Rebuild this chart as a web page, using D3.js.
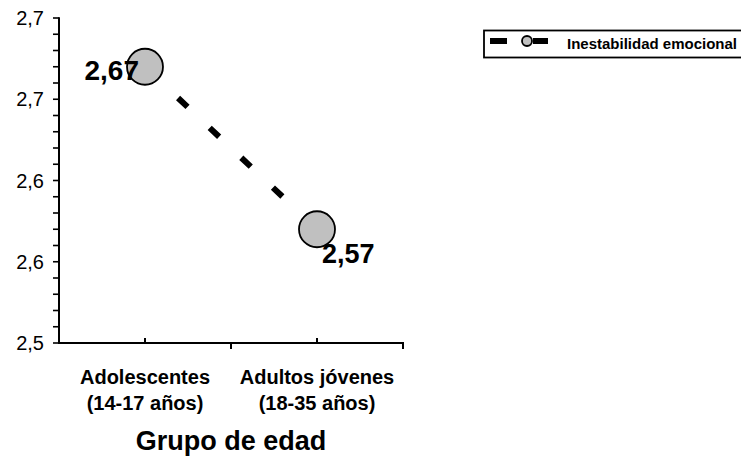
<!DOCTYPE html>
<html>
<head>
<meta charset="utf-8">
<script src="https://cdn.jsdelivr.net/npm/d3@7"></script>
<style>
  html, body { margin: 0; padding: 0; background: #fff; }
  svg { display: block; font-family: "Liberation Sans", Arial, sans-serif; }
</style>
</head>
<body>
<svg id="chart" width="741" height="458"></svg>
<script>
// Age groups on the x axis (two text lines each)
const categories = ["Adolescentes\n(14-17 años)", "Adultos jóvenes\n(18-35 años)"];
// Mean emotional instability score per age group
const values = [2.67, 2.57];
const valueLabels = ["2,67", "2,57"];
const seriesName = "Inestabilidad emocional";
// Major y ticks and their printed labels (one decimal, comma separator)
const yTicks = [2.5, 2.55, 2.6, 2.65, 2.7];
const yTickLabels = ["2,5", "2,6", "2,6", "2,7", "2,7"];
const yMinorStep = 0.01;
const xTitle = "Grupo de edad";

const svg = d3.select("#chart");
const plot = { left: 59, right: 403, top: 18, bottom: 343 };

const y = d3.scaleLinear().domain([2.5, 2.7]).range([plot.bottom, plot.top]);
const x = d3.scaleBand().domain(categories).range([plot.left, plot.right]).padding(0);
const cx = c => x(c) + x.bandwidth() / 2;

// ---- y axis ----
const minorTicks = d3.range(0, 21).map(i => +(2.5 + i * yMinorStep).toFixed(2));
const yAxis = svg.append("g");
yAxis.selectAll("line.minor").data(minorTicks).join("line")
  .attr("x1", plot.left - 6).attr("x2", plot.left)
  .attr("y1", d => y(d)).attr("y2", d => y(d))
  .attr("stroke", "#000").attr("stroke-width", 1.6);
yAxis.append("line")
  .attr("x1", plot.left).attr("x2", plot.left)
  .attr("y1", plot.top - 0.8).attr("y2", plot.bottom + 1)
  .attr("stroke", "#000").attr("stroke-width", 2);
yAxis.selectAll("text").data(yTicks).join("text")
  .attr("x", 44).attr("y", d => y(d)).attr("dy", "0.36em")
  .attr("text-anchor", "end")
  .attr("font-size", 20)
  .text((d, i) => yTickLabels[i]);

// ---- x axis ----
const xAxis = svg.append("g");
xAxis.append("line")
  .attr("x1", plot.left - 1).attr("x2", plot.right + 1)
  .attr("y1", plot.bottom).attr("y2", plot.bottom)
  .attr("stroke", "#000").attr("stroke-width", 2);
// category boundaries get downward ticks, category centres upward ones
const boundaries = categories.map(c => x(c) + x.bandwidth());
xAxis.selectAll("line.b").data(boundaries).join("line")
  .attr("x1", d => d).attr("x2", d => d)
  .attr("y1", plot.bottom).attr("y2", plot.bottom + 6)
  .attr("stroke", "#000").attr("stroke-width", 2);
xAxis.selectAll("line.c").data(categories).join("line")
  .attr("x1", d => cx(d)).attr("x2", d => cx(d))
  .attr("y1", plot.bottom).attr("y2", plot.bottom - 5)
  .attr("stroke", "#000").attr("stroke-width", 2);
const catText = xAxis.selectAll("text").data(categories).join("text")
  .attr("text-anchor", "middle")
  .attr("font-size", 20).attr("font-weight", "bold");
catText.each(function (d) {
  const t = d3.select(this);
  d.split("\n").forEach((line, i) => {
    t.append("tspan").attr("x", cx(d)).attr("y", 384 + i * 26).text(line);
  });
});

svg.append("text")
  .attr("x", (plot.left + plot.right) / 2).attr("y", 450)
  .attr("text-anchor", "middle")
  .attr("font-size", 27).attr("font-weight", "bold")
  .text(xTitle);

// ---- series ----
const pts = categories.map((c, i) => [cx(c), y(values[i])]);
svg.append("path")
  .attr("d", d3.line()(pts))
  .attr("fill", "none").attr("stroke", "#000")
  .attr("stroke-width", 6)
  .attr("stroke-dasharray", "13,30.5")
  .attr("stroke-dashoffset", -2);
svg.selectAll("circle.pt").data(pts).join("circle")
  .attr("cx", d => d[0]).attr("cy", d => d[1]).attr("r", 18)
  .attr("fill", "#c0c0c0").attr("stroke", "#000").attr("stroke-width", 1.8);

// value labels
svg.append("text")
  .attr("x", pts[0][0] - 6).attr("y", pts[0][1] + 13)
  .attr("text-anchor", "end")
  .attr("font-size", 28).attr("font-weight", "bold")
  .text(valueLabels[0]);
svg.append("text")
  .attr("x", pts[1][0] + 5).attr("y", pts[1][1] + 34)
  .attr("text-anchor", "start")
  .attr("font-size", 27).attr("font-weight", "bold")
  .text(valueLabels[1]);

// ---- legend ----
const lg = svg.append("g");
lg.append("rect")
  .attr("x", 484).attr("y", 30.5).attr("width", 280).attr("height", 27)
  .attr("fill", "#fff").attr("stroke", "#000").attr("stroke-width", 1.8);
lg.append("line")
  .attr("x1", 490).attr("x2", 548).attr("y1", 41).attr("y2", 41)
  .attr("stroke", "#000").attr("stroke-width", 6)
  .attr("stroke-dasharray", "17,26");
lg.append("circle")
  .attr("cx", 527).attr("cy", 41).attr("r", 5)
  .attr("fill", "#c0c0c0").attr("stroke", "#000").attr("stroke-width", 1.8);
lg.append("text")
  .attr("x", 567).attr("y", 49)
  .attr("font-size", 15).attr("font-weight", "bold")
  .text(seriesName);
</script>
</body>
</html>
